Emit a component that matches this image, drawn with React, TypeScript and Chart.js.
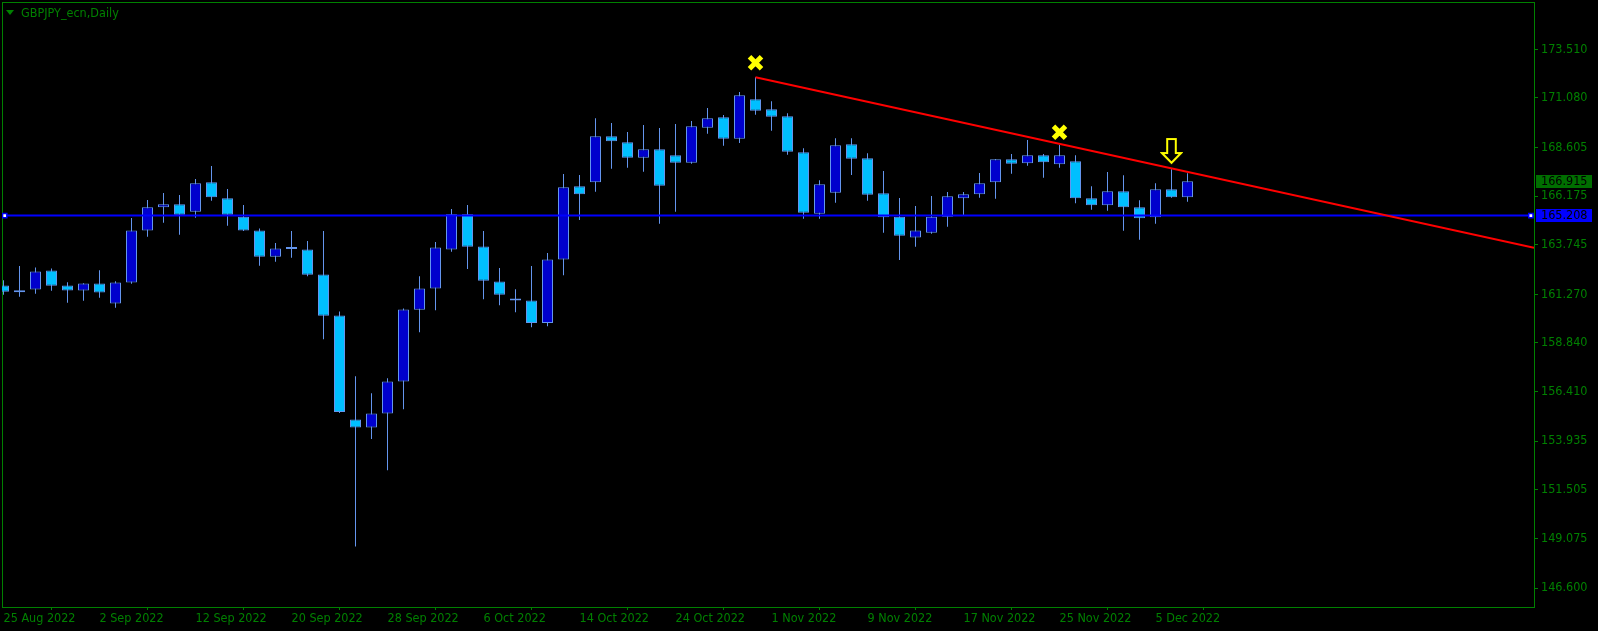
import React, { useEffect, useRef } from 'react';
import { Chart, registerables } from 'chart.js';

Chart.register(...registerables);

// ---- data ----
const DATES = [
  '25 Aug 2022', '26 Aug 2022', '29 Aug 2022', '30 Aug 2022', '31 Aug 2022',
  '1 Sep 2022', '2 Sep 2022', '5 Sep 2022', '6 Sep 2022', '7 Sep 2022', '8 Sep 2022', '9 Sep 2022',
  '12 Sep 2022', '13 Sep 2022', '14 Sep 2022', '15 Sep 2022', '16 Sep 2022', '19 Sep 2022',
  '20 Sep 2022', '21 Sep 2022', '22 Sep 2022', '23 Sep 2022', '26 Sep 2022', '27 Sep 2022',
  '28 Sep 2022', '29 Sep 2022', '30 Sep 2022', '3 Oct 2022', '4 Oct 2022', '5 Oct 2022',
  '6 Oct 2022', '7 Oct 2022', '10 Oct 2022', '11 Oct 2022', '12 Oct 2022', '13 Oct 2022',
  '14 Oct 2022', '17 Oct 2022', '18 Oct 2022', '19 Oct 2022', '20 Oct 2022', '21 Oct 2022',
  '24 Oct 2022', '25 Oct 2022', '26 Oct 2022', '27 Oct 2022', '28 Oct 2022', '31 Oct 2022',
  '1 Nov 2022', '2 Nov 2022', '3 Nov 2022', '4 Nov 2022', '7 Nov 2022', '8 Nov 2022',
  '9 Nov 2022', '10 Nov 2022', '11 Nov 2022', '14 Nov 2022', '15 Nov 2022', '16 Nov 2022',
  '17 Nov 2022', '18 Nov 2022', '21 Nov 2022', '22 Nov 2022', '23 Nov 2022', '24 Nov 2022',
  '25 Nov 2022', '28 Nov 2022', '29 Nov 2022', '30 Nov 2022', '1 Dec 2022', '2 Dec 2022',
  '5 Dec 2022', '6 Dec 2022', '7 Dec 2022',
];

const OPEN = [
  161.715, 161.455, 161.515, 162.465, 161.715, 161.465, 161.815, 160.815, 161.865, 164.465,
  165.615, 165.765, 165.395, 166.865, 166.065, 165.145, 164.465, 163.145, 163.555, 163.515,
  162.265, 160.215, 155.015, 154.615, 155.315, 156.915, 160.495, 161.565, 163.515, 165.265,
  163.665, 161.915, 160.98, 160.965, 159.845, 163.015, 166.665, 166.865, 169.165, 168.865,
  168.095, 168.515, 168.215, 167.845, 169.595, 170.115, 169.045, 171.015, 170.515, 170.165,
  168.365, 165.295, 166.345, 168.765, 168.065, 166.315, 165.145, 164.115, 164.345, 165.145,
  166.065, 166.265, 166.865, 168.015, 167.815, 168.215, 167.765, 167.915, 166.065, 165.715,
  166.415, 165.615, 165.115, 166.515, 166.115,
];
const HIGH = [
  161.98, 162.68, 162.615, 162.565, 161.88, 161.83, 162.48, 161.93, 165.08, 165.98,
  166.33, 166.23, 167.03, 167.68, 166.53, 165.73, 164.565, 163.83, 164.43, 163.93,
  164.43, 160.415, 157.18, 156.33, 157.08, 160.565, 162.18, 163.88, 165.53, 165.73,
  164.43, 162.58, 161.53, 162.68, 163.33, 167.28, 167.23, 170.065, 169.83, 169.38,
  169.73, 169.58, 169.78, 169.93, 170.58, 170.23, 171.38, 172.115, 170.915, 170.315,
  168.565, 166.965, 169.065, 169.065, 168.315, 167.43, 166.08, 165.68, 166.18, 166.38,
  166.38, 167.33, 168.03, 168.28, 168.98, 168.28, 168.73, 168.215, 166.665, 167.38,
  167.215, 165.965, 166.815, 167.515, 167.315,
];
const LOW = [
  161.245, 161.145, 161.295, 161.445, 160.845, 160.945, 161.095, 160.595, 161.795, 164.145,
  164.845, 164.245, 165.095, 165.945, 164.695, 164.44, 162.695, 162.895, 163.095, 162.18,
  159.03, 155.345, 148.68, 154.045, 152.48, 155.53, 159.38, 160.48, 163.395, 162.53,
  161.03, 160.73, 160.38, 159.63, 159.68, 162.23, 164.98, 166.395, 167.545, 167.595,
  167.395, 164.795, 165.395, 167.795, 169.295, 168.695, 168.83, 170.245, 169.445, 168.245,
  165.045, 165.045, 165.845, 167.23, 165.945, 164.345, 162.98, 163.645, 164.295, 164.645,
  165.215, 166.095, 166.045, 167.295, 167.695, 167.095, 167.595, 165.815, 165.495, 165.445,
  164.445, 164.0, 164.795, 166.10, 165.895,
];
const CLOSE = [
  161.395, 161.38, 162.415, 161.695, 161.465, 161.815, 161.365, 161.865, 164.465, 165.615,
  165.765, 165.245, 166.815, 166.115, 165.245, 164.465, 163.145, 163.565, 163.53, 162.245,
  160.195, 155.395, 154.615, 155.315, 156.915, 160.515, 161.565, 163.615, 165.265, 163.645,
  161.945, 161.245, 160.965, 159.845, 163.015, 166.615, 166.265, 169.165, 168.915, 168.095,
  168.515, 166.695, 167.845, 169.665, 170.065, 169.045, 171.215, 170.445, 170.145, 168.395,
  165.345, 166.765, 168.715, 168.045, 166.245, 165.115, 164.195, 164.465, 165.145, 166.165,
  166.265, 166.815, 168.015, 167.795, 168.215, 167.865, 168.215, 166.065, 165.715, 166.415,
  165.615, 165.065, 166.515, 166.115, 166.915,
];

const X_TICK_BARS = [0, 6, 12, 18, 24, 30, 36, 42, 48, 54, 60, 66, 72];
const Y_TICKS = [173.51, 171.08, 168.605, 166.175, 163.745, 161.27, 158.84, 156.41, 153.935, 151.505, 149.075, 146.6];

const SUPPORT_LEVEL = 165.208;
const LAST_PRICE = 166.915;
const TREND_START = { x: 47, y: 172.115 };
const TREND_END = { x: 95.656, y: 163.6 };
const SUPPORT_ANCHOR_BARS = [0.075, 95.46];
const CROSS_MARKS = [{ x: 47, y: 172.84 }, { x: 66, y: 169.37 }];
const ARROW_MARKS = [{ x: 73, y: 168.43 }];

const X_MIN = -0.09375;
const X_MAX = 95.65625;
const Y_MIN = 145.653;
const Y_MAX = 175.873;

const GREEN = '#008000';
const BULL = '#0000CD';
const BEAR = '#00BFFF';
const WICK = '#6495ED';
const FONT = "'DejaVu Sans Condensed', 'Liberation Sans', sans-serif";
const FONT_SIZE = 12.5;

function makeArrow(): HTMLCanvasElement {
  const c = document.createElement('canvas');
  c.width = 23;
  c.height = 28;
  const g = c.getContext('2d')!;
  g.beginPath();
  g.moveTo(7.2, 2);
  g.lineTo(15.8, 2);
  g.lineTo(15.8, 16);
  g.lineTo(21, 16);
  g.lineTo(11.5, 25.7);
  g.lineTo(2, 16);
  g.lineTo(7.2, 16);
  g.closePath();
  g.fillStyle = '#000';
  g.fill();
  g.strokeStyle = '#FFFF00';
  g.lineWidth = 2;
  g.stroke();
  return c;
}

const zeroPadding = (scale: any) => {
  scale.paddingTop = 0;
  scale.paddingBottom = 0;
  scale.paddingLeft = 0;
  scale.paddingRight = 0;
};

const framePlugin = {
  id: 'mtFrame',
  beforeDatasetsDraw(chart: any) {
    const { ctx, chartArea: a } = chart;
    ctx.save();
    ctx.strokeStyle = GREEN;
    ctx.lineWidth = 1;
    ctx.strokeRect(a.left + 0.5, a.top + 0.5, a.right - a.left, a.bottom - a.top);
    ctx.restore();
  },
  afterDraw(chart: any) {
    const { ctx } = chart;
    const ys = chart.scales.y;
    const boxes = [
      { v: LAST_PRICE, fill: '#006E00' },
      { v: SUPPORT_LEVEL, fill: '#0000FF' },
    ];
    ctx.save();
    ctx.font = `${FONT_SIZE}px ${FONT}`;
    ctx.textBaseline = 'middle';
    ctx.textAlign = 'left';
    for (const b of boxes) {
      const y = ys.getPixelForValue(b.v);
      ctx.fillStyle = b.fill;
      ctx.fillRect(ys.left + 2, Math.round(y - 6.5), 56, 13);
      ctx.fillStyle = '#000';
      ctx.fillText(b.v.toFixed(3), ys.left + 7, y + 0.5);
    }
    ctx.restore();
  },
};

export default function App() {
  const ref = useRef<HTMLCanvasElement | null>(null);

  useEffect(() => {
    document.body.style.margin = '0';
    document.body.style.background = '#000';
    const canvas = ref.current;
    if (!canvas) return;
    const arrow = makeArrow();

    const bodyColors = OPEN.map((o, i) => (CLOSE[i] >= o ? BULL : BEAR));

    const chart = new Chart(canvas, {
      type: 'bar',
      data: {
        datasets: [
          {
            type: 'line',
            data: CROSS_MARKS,
            showLine: false,
            pointStyle: 'crossRot',
            pointRadius: 8.5,
            pointBorderWidth: 5,
            pointBorderColor: '#FFFF00',
            pointBackgroundColor: '#FFFF00',
            order: 0,
          } as any,
          {
            type: 'line',
            data: ARROW_MARKS,
            showLine: false,
            pointStyle: arrow,
            pointRadius: 6,
            order: 0,
          } as any,
          {
            type: 'line',
            data: SUPPORT_ANCHOR_BARS.map((x) => ({ x, y: SUPPORT_LEVEL })),
            showLine: false,
            pointStyle: 'rect',
            pointRadius: 3,
            pointBorderWidth: 1.5,
            pointBorderColor: '#0000FF',
            pointBackgroundColor: '#FFFFFF',
            order: 1,
          } as any,
          {
            type: 'line',
            data: [TREND_START, TREND_END],
            borderColor: '#FF0000',
            borderWidth: 2,
            pointRadius: 0,
            order: 2,
          } as any,
          {
            type: 'line',
            data: [{ x: X_MIN, y: SUPPORT_LEVEL }, { x: X_MAX, y: SUPPORT_LEVEL }],
            borderColor: '#0000FF',
            borderWidth: 2,
            pointRadius: 0,
            order: 3,
          } as any,
          {
            type: 'bar',
            data: OPEN.map((o, i) => ({ x: i, y: [o, CLOSE[i]] })),
            backgroundColor: bodyColors,
            borderColor: WICK,
            borderWidth: 1,
            borderSkipped: false,
            barThickness: 11,
            minBarLength: 2,
            grouped: false,
            inflateAmount: 0,
            order: 4,
          } as any,
          {
            type: 'bar',
            data: LOW.map((l, i) => ({ x: i, y: [l, HIGH[i]] })),
            backgroundColor: WICK,
            borderWidth: 0,
            barThickness: 1,
            grouped: false,
            inflateAmount: 0,
            order: 5,
          } as any,
        ],
      },
      options: {
        responsive: false,
        maintainAspectRatio: false,
        animation: false,
        devicePixelRatio: 1,
        layout: { autoPadding: false, padding: { left: 2, top: 2, right: 0, bottom: 0 } },
        plugins: {
          legend: { display: false },
          tooltip: { enabled: false },
          title: { display: false },
        },
        scales: {
          x: {
            type: 'linear',
            position: 'bottom',
            min: X_MIN,
            max: X_MAX,
            offset: false,
            border: { display: true, color: GREEN, width: 1 },
            grid: { display: true, drawOnChartArea: false, drawTicks: true, tickLength: 3, color: GREEN },
            afterBuildTicks: (scale: any) => {
              scale.ticks = X_TICK_BARS.map((v) => ({ value: v }));
            },
            afterFit: (scale: any) => {
              scale.height = 24;
              zeroPadding(scale);
            },
            ticks: {
              autoSkip: false,
              maxRotation: 0,
              minRotation: 0,
              align: 'start',
              padding: 1,
              color: GREEN,
              font: { family: FONT, size: FONT_SIZE },
              callback: (value: any) => DATES[Math.round(Number(value))] ?? '',
            },
          },
          y: {
            type: 'linear',
            position: 'right',
            min: Y_MIN,
            max: Y_MAX,
            beginAtZero: false,
            border: { display: true, color: GREEN, width: 1 },
            grid: { display: true, drawOnChartArea: false, drawTicks: true, tickLength: 4, color: GREEN },
            afterBuildTicks: (scale: any) => {
              scale.ticks = Y_TICKS.map((v) => ({ value: v }));
            },
            afterFit: (scale: any) => {
              scale.width = 64;
              zeroPadding(scale);
            },
            ticks: {
              autoSkip: false,
              padding: 3,
              color: GREEN,
              font: { family: FONT, size: FONT_SIZE },
              callback: (value: any) => Number(value).toFixed(3),
            },
          },
        },
      } as any,
      plugins: [framePlugin],
    });

    return () => {
      chart.destroy();
    };
  }, []);

  return (
    <div style={{ position: 'relative', width: 1598, height: 631, background: '#000', overflow: 'hidden' }}>
      <canvas ref={ref} width={1598} height={631} style={{ display: 'block' }} />
      <div
        style={{
          position: 'absolute',
          left: 6,
          top: 10,
          width: 0,
          height: 0,
          borderLeft: '4.5px solid transparent',
          borderRight: '4.5px solid transparent',
          borderTop: '5px solid ' + GREEN,
        }}
      />
      <div
        style={{
          position: 'absolute',
          left: 21,
          top: 5,
          color: GREEN,
          fontFamily: FONT,
          fontSize: 12.5,
          lineHeight: '15px',
          whiteSpace: 'nowrap',
        }}
      >
        GBPJPY_ecn,Daily
      </div>
    </div>
  );
}
